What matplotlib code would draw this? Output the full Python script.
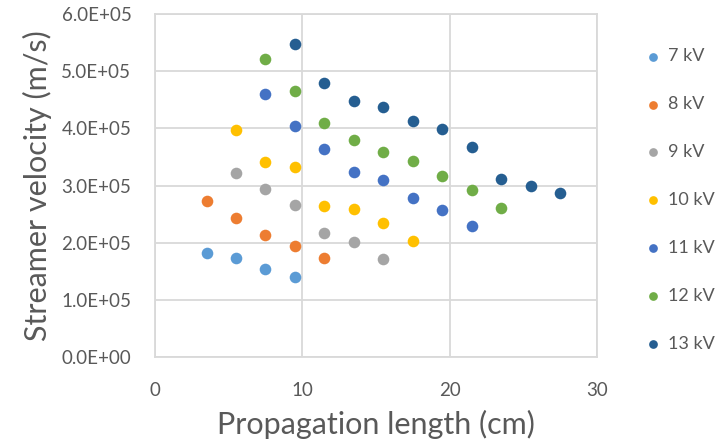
import matplotlib.pyplot as plt

plt.rcParams["font.family"] = ["Lato", "DejaVu Sans"]

# propagation length (cm) for each voltage
x_7kv = [3.5, 5.5, 7.5, 9.5]
x_8kv = [3.5, 5.5, 7.5, 9.5, 11.5]
x_9kv = [5.5, 7.5, 9.5, 11.5, 13.5, 15.5]
x_10kv = [5.5, 7.5, 9.5, 11.5, 13.5, 15.5, 17.5]
x_11kv = [7.5, 9.5, 11.5, 13.5, 15.5, 17.5, 19.5, 21.5]
x_12kv = [7.5, 9.5, 11.5, 13.5, 15.5, 17.5, 19.5, 21.5, 23.5]
x_13kv = [9.5, 11.5, 13.5, 15.5, 17.5, 19.5, 21.5, 23.5, 25.5, 27.5]

# streamer velocity (m/s)
v_7kv = [1.82e5, 1.74e5, 1.545e5, 1.405e5]
v_8kv = [2.73e5, 2.44e5, 2.135e5, 1.935e5, 1.73e5]
v_9kv = [3.22e5, 2.94e5, 2.665e5, 2.165e5, 2.01e5, 1.72e5]
v_10kv = [3.98e5, 3.415e5, 3.33e5, 2.635e5, 2.59e5, 2.35e5, 2.025e5]
v_11kv = [4.605e5, 4.035e5, 3.635e5, 3.235e5, 3.095e5, 2.775e5, 2.575e5, 2.3e5]
v_12kv = [5.22e5, 4.66e5, 4.10e5, 3.795e5, 3.585e5, 3.435e5, 3.17e5, 2.915e5, 2.61e5]
v_13kv = [5.47e5, 4.795e5, 4.485e5, 4.375e5, 4.135e5, 3.985e5, 3.67e5, 3.11e5, 2.99e5, 2.865e5]

labels = ["7 kV", "8 kV", "9 kV", "10 kV", "11 kV", "12 kV", "13 kV"]
colors = ["#5B9BD5", "#ED7D31", "#A5A5A5", "#FFC000", "#4472C4", "#70AD47", "#255E91"]

xs = [x_7kv, x_8kv, x_9kv, x_10kv, x_11kv, x_12kv, x_13kv]
vs = [v_7kv, v_8kv, v_9kv, v_10kv, v_11kv, v_12kv, v_13kv]

TEXT = "#595959"
GRID = "#D9D9D9"

fig = plt.figure(figsize=(7.26, 4.43), dpi=100)
ax = fig.add_axes([0.2135, 0.194, 0.6088, 0.774])

for x, v, label, color in zip(xs, vs, labels, colors):
    ax.scatter(x, v, s=70, color=color, label=label, zorder=3, linewidths=0)

ax.set_xlim(0, 30)
ax.set_ylim(0, 6e5)
ax.set_xticks([0, 10, 20, 30])
ax.set_yticks([i * 1e5 for i in range(7)])
ax.set_yticklabels([f"{i}.0E+0{5 if i else 0}" for i in range(7)])

ax.grid(True, color=GRID, linewidth=1.3, zorder=0)
for spine in ax.spines.values():
    spine.set_color(GRID)
    spine.set_linewidth(1.3)

ax.tick_params(length=0, labelsize=13.5, colors=TEXT)
ax.tick_params(axis="x", pad=18)
ax.tick_params(axis="y", pad=17)

ax.set_xlabel("Propagation length (cm)", fontsize=22, color=TEXT, labelpad=8)
ax.set_ylabel("Streamer velocity (m/s)", fontsize=22, color=TEXT, labelpad=7)

ax.legend(
    loc="upper left",
    bbox_to_anchor=(0.890, 0.891),
    bbox_transform=fig.transFigure,
    frameon=False,
    fontsize=13,
    labelcolor=TEXT,
    labelspacing=1.77,
    handlelength=0.8,
    handletextpad=0.4,
    borderpad=0,
    borderaxespad=0,
    scatterpoints=1,
    markerscale=0.75,
)

fig.savefig("out.png", dpi=100)
